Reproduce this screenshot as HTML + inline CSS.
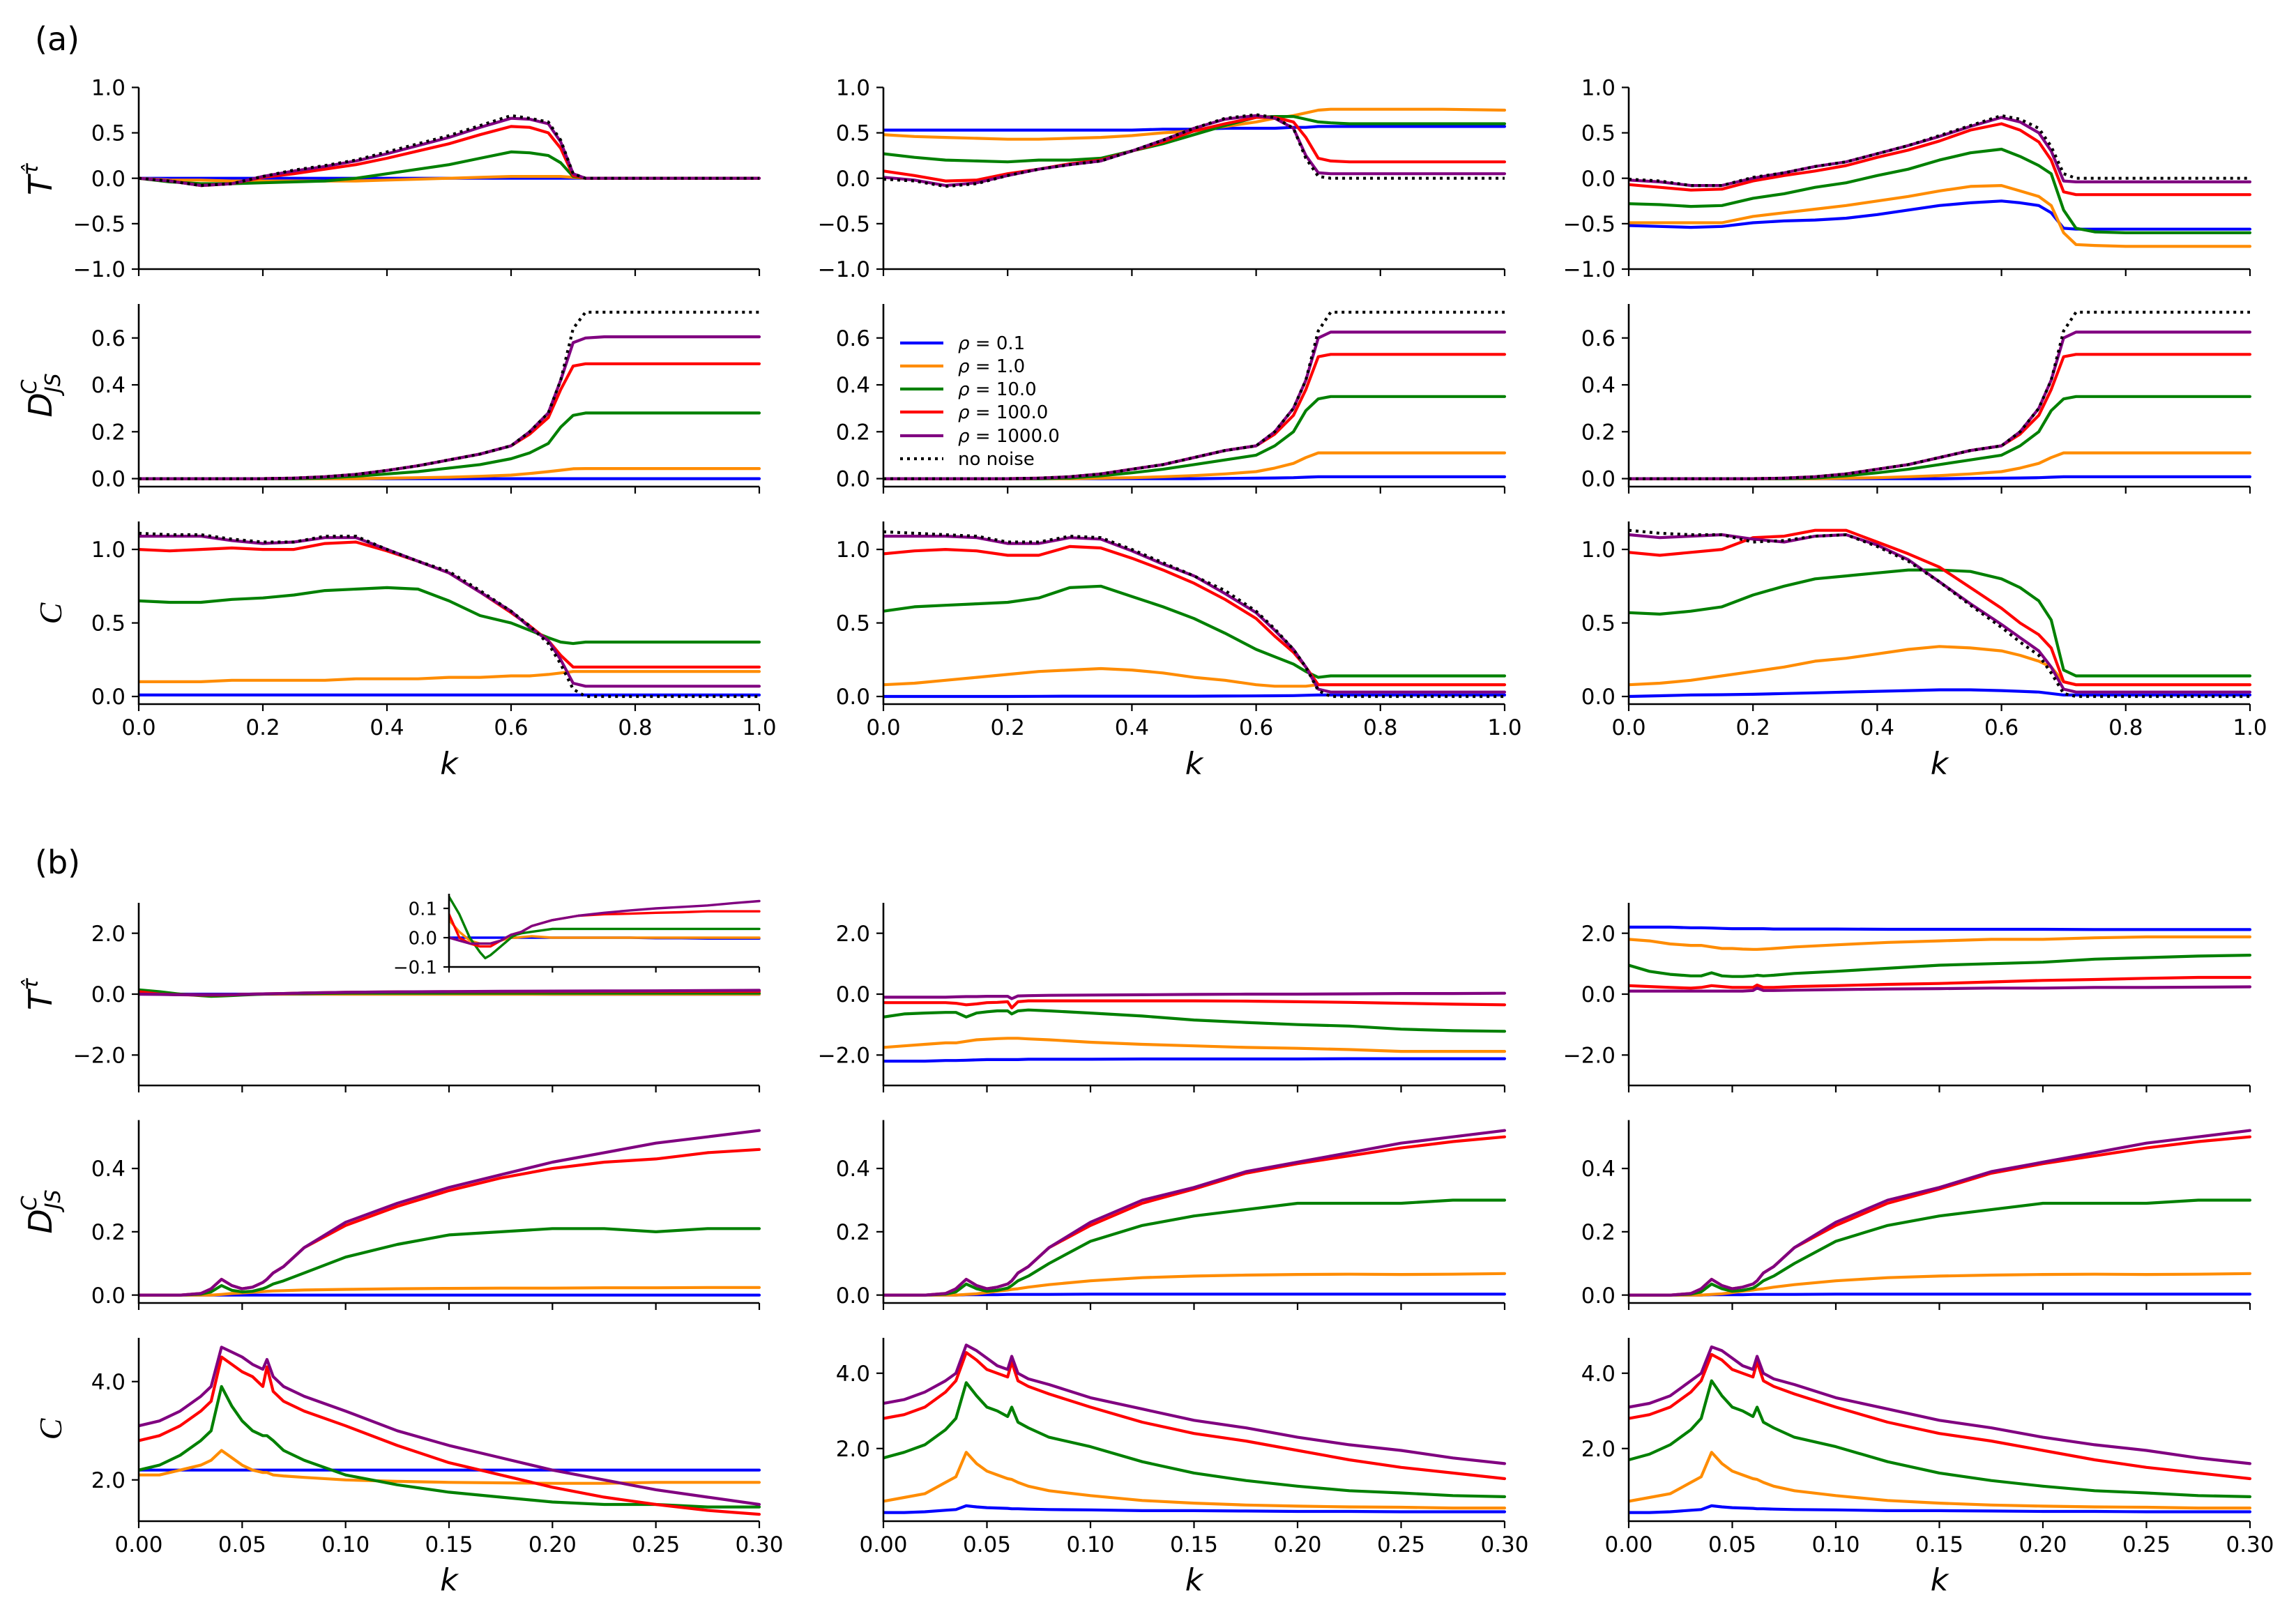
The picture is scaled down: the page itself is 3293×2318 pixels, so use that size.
<!DOCTYPE html>
<html><head><meta charset="utf-8">
<style>
html,body{margin:0;padding:0;background:#fff;}
svg{display:block;font-family:"DejaVu Sans","Liberation Sans",sans-serif;}
</style></head>
<body>
<svg id="fig" width="3293" height="2318" viewBox="0 0 3293 2318" xmlns="http://www.w3.org/2000/svg">
<rect width="3293" height="2318" fill="#fff"/>
<text x="50" y="72" font-size="46">(a)</text>
<text x="50" y="1253" font-size="46">(b)</text>
<g id="plots"></g>
</svg>
<script>
// ---------- shared k grids ----------
const kA = [0,0.05,0.1,0.15,0.2,0.25,0.3,0.35,0.4,0.45,0.5,0.55,0.6,0.63,0.66,0.68,0.7,0.72,0.75,0.8,0.9,1.0];
const kB = [0,0.01,0.02,0.03,0.035,0.04,0.045,0.05,0.055,0.06,0.062,0.065,0.07,0.08,0.1,0.125,0.15,0.175,0.2,0.225,0.25,0.275,0.3];
const seriesNames = ["rho-0.1","rho-1.0","rho-10.0","rho-100.0","rho-1000.0","no-noise"];
const legendLabels = ["\u03c1 = 0.1","\u03c1 = 1.0","\u03c1 = 10.0","\u03c1 = 100.0","\u03c1 = 1000.0","no noise"];
const xTicksA = [0,0.2,0.4,0.6,0.8,1.0];
const xTickLabelsA = ["0.0","0.2","0.4","0.6","0.8","1.0"];
const xTicksB = [0,0.05,0.1,0.15,0.2,0.25,0.3];
const xTickLabelsB = ["0.00","0.05","0.10","0.15","0.20","0.25","0.30"];
const yTicksAT = [-1,-0.5,0,0.5,1];
const yTickLabelsAT = ["\u22121.0","\u22120.5","0.0","0.5","1.0"];
const yTicksAD = [0,0.2,0.4,0.6];
const yTickLabelsAD = ["0.0","0.2","0.4","0.6"];
const yTicksAC = [0,0.5,1.0];
const yTickLabelsAC = ["0.0","0.5","1.0"];
const yTicksBT = [-2,0,2];
const yTickLabelsBT = ["\u22122.0","0.0","2.0"];
const yTicksBD = [0,0.2,0.4];
const yTickLabelsBD = ["0.0","0.2","0.4"];
const yTicksBC = [2,4];
const yTickLabelsBC = ["2.0","4.0"];
const yTicksInset = [-0.1,0,0.1];
const yTickLabelsInset = ["\u22120.1","0.0","0.1"];

// ---------- (a) column 1 ----------
const a1T_b = [0,0,0,0,0,0,0,0,0,0,0,0,0,0,0,0,0,0,0,0,0,0];
const a1T_o = [0,-0.02,-0.02,-0.03,-0.03,-0.03,-0.03,-0.03,-0.02,-0.01,0,0.01,0.02,0.02,0.02,0.02,0.01,0,0,0,0,0];
const a1T_g = [0,-0.04,-0.06,-0.06,-0.05,-0.04,-0.03,0,0.05,0.1,0.15,0.22,0.29,0.28,0.25,0.17,0.02,0,0,0,0,0];
const a1T_r = [0,-0.03,-0.08,-0.06,0.01,0.05,0.1,0.15,0.22,0.3,0.38,0.48,0.57,0.56,0.5,0.33,0.03,0,0,0,0,0];
const a1T_p = [0,-0.03,-0.08,-0.06,0.02,0.08,0.13,0.19,0.27,0.36,0.45,0.56,0.66,0.65,0.6,0.4,0.05,0,0,0,0,0];
const a1T_n = [0,-0.03,-0.08,-0.06,0.02,0.09,0.14,0.2,0.29,0.38,0.47,0.58,0.69,0.66,0.62,0.42,0.05,0,0,0,0,0];
const a1D_b = [0,0,0,0,0,0,0,0,0,0,0,0,0,0,0,0,0,0,0,0,0,0];
const a1D_o = [0,0,0,0,0,0,0,0,0.002,0.004,0.006,0.01,0.015,0.022,0.03,0.036,0.042,0.043,0.043,0.043,0.043,0.043];
const a1D_g = [0,0,0,0,0,0,0.003,0.01,0.02,0.03,0.045,0.06,0.085,0.11,0.15,0.22,0.27,0.28,0.28,0.28,0.28,0.28];
const a1D_r = [0,0,0,0,0,0.002,0.008,0.018,0.035,0.055,0.08,0.105,0.14,0.19,0.26,0.38,0.48,0.49,0.49,0.49,0.49,0.49];
const a1D_p = [0,0,0,0,0,0.002,0.008,0.018,0.035,0.055,0.08,0.105,0.14,0.2,0.28,0.42,0.58,0.6,0.605,0.605,0.605,0.605];
const a1D_n = [0,0,0,0,0,0.002,0.008,0.018,0.035,0.055,0.08,0.105,0.14,0.2,0.28,0.42,0.64,0.71,0.71,0.71,0.71,0.71];
const a1C_b = [0.01,0.01,0.01,0.01,0.01,0.01,0.01,0.01,0.01,0.01,0.01,0.01,0.01,0.01,0.01,0.01,0.01,0.01,0.01,0.01,0.01,0.01];
const a1C_o = [0.1,0.1,0.1,0.11,0.11,0.11,0.11,0.12,0.12,0.12,0.13,0.13,0.14,0.14,0.15,0.16,0.17,0.17,0.17,0.17,0.17,0.17];
const a1C_g = [0.65,0.64,0.64,0.66,0.67,0.69,0.72,0.73,0.74,0.73,0.65,0.55,0.5,0.45,0.4,0.37,0.36,0.37,0.37,0.37,0.37,0.37];
const a1C_r = [1.0,0.99,1.0,1.01,1.0,1.0,1.04,1.05,0.99,0.92,0.84,0.71,0.57,0.48,0.38,0.28,0.2,0.2,0.2,0.2,0.2,0.2];
const a1C_p = [1.09,1.09,1.09,1.06,1.04,1.05,1.08,1.08,1.0,0.92,0.84,0.71,0.58,0.47,0.38,0.25,0.09,0.07,0.07,0.07,0.07,0.07];
const a1C_n = [1.11,1.1,1.1,1.07,1.05,1.05,1.09,1.09,1.0,0.92,0.85,0.72,0.58,0.48,0.36,0.22,0.05,0,0,0,0,0];

// ---------- (a) column 2 ----------
const a2T_b = [0.53,0.53,0.53,0.53,0.53,0.53,0.53,0.53,0.53,0.54,0.54,0.55,0.55,0.55,0.56,0.56,0.57,0.57,0.57,0.57,0.57,0.57];
const a2T_o = [0.48,0.46,0.45,0.44,0.43,0.43,0.44,0.45,0.47,0.5,0.52,0.57,0.62,0.66,0.69,0.72,0.75,0.76,0.76,0.76,0.76,0.75];
const a2T_g = [0.27,0.23,0.2,0.19,0.18,0.2,0.2,0.22,0.3,0.38,0.48,0.58,0.67,0.68,0.68,0.65,0.62,0.61,0.6,0.6,0.6,0.6];
const a2T_r = [0.08,0.03,-0.03,-0.02,0.05,0.1,0.16,0.2,0.3,0.4,0.52,0.6,0.67,0.67,0.62,0.45,0.22,0.19,0.18,0.18,0.18,0.18];
const a2T_p = [0.01,-0.02,-0.08,-0.05,0.03,0.1,0.15,0.19,0.3,0.42,0.55,0.65,0.69,0.66,0.55,0.25,0.06,0.05,0.05,0.05,0.05,0.05];
const a2T_n = [-0.01,-0.03,-0.09,-0.06,0.03,0.1,0.15,0.19,0.3,0.42,0.55,0.66,0.7,0.67,0.55,0.22,0.02,0,0,0,0,0];
const a2D_b = [0,0,0,0,0,0,0,0,0,0,0,0.001,0.002,0.003,0.004,0.006,0.008,0.008,0.008,0.008,0.008,0.008];
const a2D_o = [0,0,0,0,0,0,0,0.002,0.004,0.008,0.013,0.02,0.03,0.045,0.065,0.09,0.11,0.11,0.11,0.11,0.11,0.11];
const a2D_g = [0,0,0,0,0,0,0.003,0.012,0.025,0.04,0.06,0.08,0.1,0.14,0.2,0.29,0.34,0.35,0.35,0.35,0.35,0.35];
const a2D_r = [0,0,0,0,0,0.002,0.008,0.02,0.04,0.06,0.09,0.12,0.14,0.19,0.27,0.38,0.52,0.53,0.53,0.53,0.53,0.53];
const a2D_p = [0,0,0,0,0,0.002,0.008,0.02,0.04,0.06,0.09,0.12,0.14,0.2,0.3,0.42,0.6,0.625,0.625,0.625,0.625,0.625];
const a2D_n = [0,0,0,0,0,0.002,0.008,0.02,0.04,0.06,0.09,0.12,0.14,0.2,0.3,0.42,0.63,0.71,0.71,0.71,0.71,0.71];
const a2C_b = [0,0,0,0,0,0.001,0.002,0.002,0.002,0.002,0.002,0.003,0.004,0.005,0.006,0.008,0.01,0.01,0.01,0.01,0.01,0.01];
const a2C_o = [0.08,0.09,0.11,0.13,0.15,0.17,0.18,0.19,0.18,0.16,0.13,0.11,0.08,0.07,0.07,0.07,0.08,0.08,0.08,0.08,0.08,0.08];
const a2C_g = [0.58,0.61,0.62,0.63,0.64,0.67,0.74,0.75,0.68,0.61,0.53,0.43,0.32,0.27,0.22,0.17,0.13,0.14,0.14,0.14,0.14,0.14];
const a2C_r = [0.97,0.99,1.0,0.99,0.96,0.96,1.02,1.01,0.94,0.86,0.77,0.66,0.53,0.41,0.3,0.2,0.08,0.08,0.08,0.08,0.08,0.08];
const a2C_p = [1.09,1.09,1.09,1.08,1.04,1.04,1.08,1.07,0.99,0.9,0.82,0.7,0.57,0.45,0.32,0.2,0.05,0.03,0.03,0.03,0.03,0.03];
const a2C_n = [1.12,1.11,1.1,1.09,1.05,1.05,1.09,1.08,1.0,0.91,0.82,0.72,0.58,0.46,0.32,0.2,0.04,0,0,0,0,0];

// ---------- (a) column 3 ----------
const a3T_b = [-0.52,-0.53,-0.54,-0.53,-0.49,-0.47,-0.46,-0.44,-0.4,-0.35,-0.3,-0.27,-0.25,-0.27,-0.3,-0.38,-0.55,-0.56,-0.56,-0.56,-0.56,-0.56];
const a3T_o = [-0.49,-0.49,-0.49,-0.49,-0.42,-0.38,-0.34,-0.3,-0.25,-0.2,-0.14,-0.09,-0.08,-0.14,-0.2,-0.3,-0.6,-0.73,-0.74,-0.75,-0.75,-0.75];
const a3T_g = [-0.28,-0.29,-0.31,-0.3,-0.22,-0.17,-0.1,-0.05,0.03,0.1,0.2,0.28,0.32,0.24,0.14,0.05,-0.35,-0.55,-0.59,-0.6,-0.6,-0.6];
const a3T_r = [-0.07,-0.1,-0.13,-0.12,-0.03,0.03,0.08,0.14,0.23,0.31,0.41,0.53,0.6,0.53,0.4,0.2,-0.15,-0.18,-0.18,-0.18,-0.18,-0.18];
const a3T_p = [-0.02,-0.04,-0.08,-0.08,0,0.06,0.13,0.18,0.27,0.36,0.46,0.57,0.67,0.62,0.5,0.3,-0.03,-0.04,-0.04,-0.04,-0.04,-0.04];
const a3T_n = [-0.01,-0.03,-0.08,-0.08,0.01,0.06,0.13,0.18,0.27,0.36,0.47,0.58,0.69,0.65,0.55,0.35,0.05,0,0,0,0,0];
const a3D_b = [0,0,0,0,0,0,0,0,0,0,0,0.001,0.002,0.003,0.004,0.006,0.008,0.008,0.008,0.008,0.008,0.008];
const a3D_o = [0,0,0,0,0,0,0,0.002,0.004,0.008,0.013,0.02,0.03,0.045,0.065,0.09,0.11,0.11,0.11,0.11,0.11,0.11];
const a3D_g = [0,0,0,0,0,0,0.003,0.012,0.025,0.04,0.06,0.08,0.1,0.14,0.2,0.29,0.34,0.35,0.35,0.35,0.35,0.35];
const a3D_r = [0,0,0,0,0,0.002,0.008,0.02,0.04,0.06,0.09,0.12,0.14,0.19,0.27,0.38,0.52,0.53,0.53,0.53,0.53,0.53];
const a3D_p = [0,0,0,0,0,0.002,0.008,0.02,0.04,0.06,0.09,0.12,0.14,0.2,0.3,0.42,0.6,0.625,0.625,0.625,0.625,0.625];
const a3D_n = [0,0,0,0,0,0.002,0.008,0.02,0.04,0.06,0.09,0.12,0.14,0.2,0.3,0.42,0.63,0.71,0.71,0.71,0.71,0.71];
const a3C_b = [0,0.005,0.01,0.012,0.015,0.02,0.025,0.03,0.035,0.04,0.045,0.045,0.04,0.035,0.03,0.02,0.01,0.01,0.01,0.01,0.01,0.01];
const a3C_o = [0.08,0.09,0.11,0.14,0.17,0.2,0.24,0.26,0.29,0.32,0.34,0.33,0.31,0.28,0.24,0.2,0.1,0.08,0.08,0.08,0.08,0.08];
const a3C_g = [0.57,0.56,0.58,0.61,0.69,0.75,0.8,0.82,0.84,0.86,0.86,0.85,0.8,0.74,0.65,0.52,0.18,0.14,0.14,0.14,0.14,0.14];
const a3C_r = [0.98,0.96,0.98,1.0,1.08,1.09,1.13,1.13,1.05,0.97,0.88,0.74,0.6,0.5,0.42,0.33,0.1,0.08,0.08,0.08,0.08,0.08];
const a3C_p = [1.1,1.08,1.09,1.1,1.07,1.05,1.09,1.1,1.03,0.93,0.78,0.63,0.49,0.4,0.31,0.2,0.05,0.03,0.03,0.03,0.03,0.03];
const a3C_n = [1.13,1.11,1.1,1.1,1.05,1.06,1.09,1.1,1.02,0.92,0.78,0.62,0.47,0.37,0.28,0.16,0.02,0,0,0,0,0];

// ---------- (b) column 1 ----------
const b1T_b = [0,0,0,0,0,0,0,0,0,0,0,0,0,0,0,0,0,0,-0.002,-0.002,-0.003,-0.003,-0.003];
const b1T_o = [0.06,0.02,-0.01,-0.02,-0.02,-0.02,-0.015,-0.01,-0.005,0,0,0,0.002,0.005,0,0,0,0,0,0,0,0,0];
const b1T_g = [0.14,0.08,0,-0.05,-0.07,-0.06,-0.045,-0.03,-0.015,0,0.005,0.01,0.015,0.02,0.03,0.03,0.03,0.03,0.03,0.03,0.03,0.03,0.03];
const b1T_r = [0.08,0,-0.02,-0.03,-0.03,-0.03,-0.02,-0.01,0,0.01,0.012,0.015,0.02,0.04,0.06,0.075,0.08,0.082,0.085,0.087,0.09,0.09,0.09];
const b1T_p = [0,-0.01,-0.02,-0.02,-0.02,-0.02,-0.015,-0.01,0,0.01,0.012,0.015,0.02,0.04,0.06,0.075,0.085,0.093,0.1,0.105,0.11,0.118,0.125];
const b1D_b = [0,0,0,0,0,0,0,0,0,0,0,0,0,0,0,0,0,0,0,0,0,0,0];
const b1D_o = [0,0,0,0,0,0.002,0.005,0.007,0.009,0.011,0.012,0.013,0.014,0.016,0.018,0.02,0.021,0.022,0.022,0.023,0.023,0.024,0.024];
const b1D_g = [0,0,0,0.003,0.01,0.03,0.015,0.01,0.012,0.02,0.025,0.035,0.045,0.07,0.12,0.16,0.19,0.2,0.21,0.21,0.2,0.21,0.21];
const b1D_r = [0,0,0,0.005,0.02,0.05,0.03,0.02,0.025,0.04,0.05,0.07,0.09,0.15,0.22,0.28,0.33,0.37,0.4,0.42,0.43,0.45,0.46];
const b1D_p = [0,0,0,0.005,0.02,0.05,0.03,0.02,0.025,0.04,0.05,0.07,0.09,0.15,0.23,0.29,0.34,0.38,0.42,0.45,0.48,0.5,0.52];
const b1C_b = [2.2,2.2,2.2,2.2,2.2,2.2,2.2,2.2,2.2,2.2,2.2,2.2,2.2,2.2,2.2,2.2,2.2,2.2,2.2,2.2,2.2,2.2,2.2];
const b1C_o = [2.1,2.1,2.2,2.3,2.4,2.6,2.45,2.3,2.2,2.15,2.15,2.1,2.08,2.05,2.0,1.97,1.95,1.94,1.93,1.93,1.95,1.95,1.95];
const b1C_g = [2.2,2.3,2.5,2.8,3.0,3.9,3.5,3.2,3.0,2.9,2.9,2.8,2.6,2.4,2.1,1.9,1.75,1.65,1.55,1.5,1.5,1.45,1.45];
const b1C_r = [2.8,2.9,3.1,3.4,3.6,4.5,4.35,4.2,4.1,3.9,4.3,3.8,3.6,3.4,3.1,2.7,2.35,2.1,1.85,1.65,1.5,1.38,1.3];
const b1C_p = [3.1,3.2,3.4,3.7,3.9,4.7,4.6,4.5,4.35,4.25,4.45,4.1,3.9,3.7,3.4,3.0,2.7,2.45,2.2,2.0,1.8,1.65,1.5];

// ---------- (b) column 2 ----------
const b2T_b = [-2.2,-2.2,-2.2,-2.18,-2.18,-2.17,-2.16,-2.15,-2.15,-2.15,-2.15,-2.15,-2.14,-2.14,-2.14,-2.13,-2.13,-2.13,-2.13,-2.12,-2.12,-2.12,-2.12];
const b2T_o = [-1.75,-1.7,-1.65,-1.6,-1.6,-1.55,-1.5,-1.48,-1.46,-1.45,-1.45,-1.45,-1.47,-1.5,-1.58,-1.65,-1.7,-1.75,-1.78,-1.82,-1.88,-1.88,-1.88];
const b2T_g = [-0.75,-0.65,-0.62,-0.6,-0.6,-0.75,-0.62,-0.58,-0.55,-0.55,-0.65,-0.55,-0.52,-0.55,-0.62,-0.72,-0.85,-0.93,-1.0,-1.05,-1.15,-1.2,-1.22];
const b2T_r = [-0.28,-0.28,-0.28,-0.28,-0.3,-0.35,-0.32,-0.28,-0.27,-0.25,-0.45,-0.25,-0.22,-0.22,-0.22,-0.22,-0.22,-0.23,-0.25,-0.27,-0.3,-0.33,-0.35];
const b2T_p = [-0.1,-0.1,-0.1,-0.1,-0.09,-0.08,-0.08,-0.07,-0.07,-0.07,-0.15,-0.06,-0.05,-0.04,-0.03,-0.02,-0.01,0,0,0.01,0.02,0.02,0.03];
const b2D_b = [0,0,0,0,0,0.001,0.001,0.001,0.001,0.002,0.002,0.002,0.002,0.002,0.003,0.003,0.003,0.003,0.003,0.003,0.003,0.003,0.003];
const b2D_o = [0,0,0,0,0,0.002,0.004,0.008,0.012,0.016,0.018,0.02,0.025,0.033,0.045,0.055,0.06,0.063,0.065,0.066,0.065,0.066,0.068];
const b2D_g = [0,0,0,0.003,0.01,0.035,0.02,0.012,0.015,0.022,0.03,0.045,0.06,0.1,0.17,0.22,0.25,0.27,0.29,0.29,0.29,0.3,0.3];
const b2D_r = [0,0,0,0.005,0.02,0.05,0.03,0.02,0.025,0.035,0.045,0.07,0.09,0.15,0.22,0.29,0.335,0.385,0.415,0.44,0.465,0.485,0.5];
const b2D_p = [0,0,0,0.005,0.02,0.05,0.03,0.02,0.025,0.035,0.045,0.07,0.09,0.15,0.23,0.3,0.34,0.39,0.42,0.45,0.48,0.5,0.52];
const b2C_b = [0.3,0.3,0.32,0.36,0.38,0.48,0.45,0.43,0.42,0.41,0.4,0.4,0.39,0.38,0.37,0.35,0.35,0.34,0.33,0.33,0.32,0.32,0.32];
const b2C_o = [0.6,0.7,0.8,1.1,1.25,1.9,1.6,1.4,1.3,1.2,1.18,1.1,1.0,0.88,0.75,0.62,0.55,0.5,0.47,0.45,0.44,0.42,0.42];
const b2C_g = [1.75,1.9,2.1,2.5,2.8,3.75,3.4,3.1,3.0,2.85,3.1,2.7,2.55,2.3,2.05,1.65,1.35,1.15,1.0,0.88,0.82,0.75,0.72];
const b2C_r = [2.8,2.9,3.1,3.5,3.8,4.55,4.35,4.1,4.0,3.9,4.3,3.8,3.65,3.45,3.1,2.7,2.4,2.2,1.95,1.7,1.5,1.35,1.2];
const b2C_p = [3.2,3.3,3.5,3.8,4.0,4.75,4.6,4.4,4.2,4.1,4.45,4.0,3.85,3.7,3.35,3.05,2.75,2.55,2.3,2.1,1.95,1.75,1.6];

// ---------- (b) column 3 ----------
const b3T_b = [2.2,2.2,2.2,2.18,2.18,2.17,2.16,2.15,2.15,2.15,2.15,2.15,2.14,2.14,2.14,2.13,2.13,2.13,2.13,2.12,2.12,2.12,2.12];
const b3T_o = [1.8,1.75,1.65,1.6,1.6,1.55,1.5,1.5,1.48,1.47,1.47,1.48,1.5,1.55,1.62,1.7,1.75,1.8,1.8,1.85,1.88,1.88,1.88];
const b3T_g = [0.95,0.75,0.65,0.6,0.6,0.7,0.6,0.58,0.58,0.6,0.62,0.6,0.62,0.68,0.75,0.85,0.95,1.0,1.05,1.15,1.2,1.25,1.28];
const b3T_r = [0.28,0.25,0.22,0.2,0.22,0.28,0.25,0.22,0.22,0.22,0.3,0.22,0.22,0.25,0.28,0.32,0.35,0.4,0.45,0.48,0.52,0.55,0.55];
const b3T_p = [0.1,0.1,0.1,0.1,0.1,0.1,0.1,0.1,0.1,0.12,0.2,0.12,0.12,0.13,0.15,0.17,0.18,0.2,0.2,0.22,0.22,0.23,0.24];
const b3D_b = [0,0,0,0,0,0.001,0.001,0.001,0.001,0.002,0.002,0.002,0.002,0.002,0.003,0.003,0.003,0.003,0.003,0.003,0.003,0.003,0.003];
const b3D_o = [0,0,0,0,0,0.002,0.004,0.008,0.012,0.016,0.018,0.02,0.025,0.033,0.045,0.055,0.06,0.063,0.065,0.066,0.065,0.066,0.068];
const b3D_g = [0,0,0,0.003,0.01,0.035,0.02,0.012,0.015,0.022,0.03,0.045,0.06,0.1,0.17,0.22,0.25,0.27,0.29,0.29,0.29,0.3,0.3];
const b3D_r = [0,0,0,0.005,0.02,0.05,0.03,0.02,0.025,0.035,0.045,0.07,0.09,0.15,0.22,0.29,0.335,0.385,0.415,0.44,0.465,0.485,0.5];
const b3D_p = [0,0,0,0.005,0.02,0.05,0.03,0.02,0.025,0.035,0.045,0.07,0.09,0.15,0.23,0.3,0.34,0.39,0.42,0.45,0.48,0.5,0.52];
const b3C_b = [0.3,0.3,0.32,0.36,0.38,0.48,0.45,0.43,0.42,0.41,0.4,0.4,0.39,0.38,0.37,0.35,0.35,0.34,0.33,0.33,0.32,0.32,0.32];
const b3C_o = [0.6,0.7,0.8,1.1,1.25,1.9,1.6,1.4,1.3,1.2,1.18,1.1,1.0,0.88,0.75,0.62,0.55,0.5,0.47,0.45,0.44,0.42,0.42];
const b3C_g = [1.7,1.85,2.1,2.5,2.8,3.8,3.4,3.1,3.0,2.85,3.1,2.7,2.55,2.3,2.05,1.65,1.35,1.15,1.0,0.88,0.82,0.75,0.72];
const b3C_r = [2.8,2.9,3.1,3.5,3.8,4.5,4.35,4.1,4.0,3.9,4.3,3.8,3.65,3.45,3.1,2.7,2.4,2.2,1.95,1.7,1.5,1.35,1.2];
const b3C_p = [3.1,3.2,3.4,3.8,4.0,4.7,4.6,4.4,4.2,4.1,4.45,4.0,3.85,3.7,3.35,3.05,2.75,2.55,2.3,2.1,1.95,1.75,1.6];

const colors = ["#0000ff","#ff8c00","#008000","#ff0000","#800080","#000000"];

// ---------- drawing ----------
const NS = "http://www.w3.org/2000/svg";
const root = document.getElementById("plots");
let clipId = 0;
function mk(tag, attrs, parent) {
  const e = document.createElementNS(NS, tag);
  for (const k in attrs) e.setAttribute(k, attrs[k]);
  (parent || root).appendChild(e);
  return e;
}
function scale(d0, d1, p0, p1) { return v => p0 + (v - d0) / (d1 - d0) * (p1 - p0); }

function drawAxes(name, box, xdom, ydom, xticks, xlabels, yticks, ylabels, fs, tickLen, seriesList, xs) {
  const g = mk("g", {});
  
  
  const sx = scale(xdom[0], xdom[1], box.x0, box.x1);
  const sy = scale(ydom[0], ydom[1], box.bot, box.top);
  const cid = "clip" + (clipId++);
  const cp = mk("clipPath", {id: cid}, g);
  mk("rect", {x: box.x0, y: box.top - 2, width: box.x1 - box.x0 + 4, height: box.bot - box.top + 2}, cp);
  const lines = mk("g", {"clip-path": "url(#" + cid + ")"}, g);
  const lw = fs > 28 ? 4.2 : 3.4;
  seriesList.forEach((s, i) => {
    if (!s) return;
    const pts = s.map((v, j) => sx(xs[j]).toFixed(1) + "," + sy(v).toFixed(1)).join(" ");
    const pl = mk("polyline", {points: pts, fill: "none", stroke: colors[i], "stroke-width": lw, "stroke-linejoin": "round", "stroke-linecap": "round"}, lines);
    if (i === 5) { pl.setAttribute("stroke-dasharray", "4 6"); pl.setAttribute("stroke-width", "4.2"); pl.setAttribute("stroke-linecap", "butt"); }
    
    
  });
  const ls = mk("line", {x1: box.x0, y1: box.top, x2: box.x0, y2: box.bot + 1, stroke: "#000", "stroke-width": 2.6}, g);
  
  
  const bs = mk("line", {x1: box.x0 - 1, y1: box.bot, x2: box.x1, y2: box.bot, stroke: "#000", "stroke-width": 2.6}, g);
  
  
  xticks.forEach((t, i) => {
    mk("line", {x1: sx(t), y1: box.bot, x2: sx(t), y2: box.bot + tickLen, stroke: "#000", "stroke-width": 2.2}, g);
    if (xlabels) {
      const tx = mk("text", {x: sx(t), y: box.bot + 44, "font-size": fs, "text-anchor": "middle"}, g);
      tx.textContent = xlabels[i];
      
      
    }
  });
  yticks.forEach((t, i) => {
    const y = sy(t);
    mk("line", {x1: box.x0 - tickLen, y1: y, x2: box.x0, y2: y, stroke: "#000", "stroke-width": 2.2}, g);
    const ty = mk("text", {x: box.x0 - tickLen - 9, y: y + fs * 0.36, "font-size": fs, "text-anchor": "end"}, g);
    ty.textContent = ylabels[i];
    
    
  });
  return {sx, sy};
}

const cols = [{x0: 199, x1: 1089}, {x0: 1267, x1: 2158}, {x0: 2336, x1: 3227}];
const rA = {T: {top: 125.4, bot: 386}, D: {top: 436, bot: 698}, C: {top: 748, bot: 1010}};
const rB = {T: {top: 1295, bot: 1557}, D: {top: 1606.6, bot: 1869}, C: {top: 1919, bot: 2182}};
const ylimA = {T: [-1, 1], D: [-0.034, 0.745], C: [-0.052, 1.19]};
const ylimB = {T: [-3, 3], D: [-0.025, 0.553]};
const ylimBC = [[1.16, 4.89], [0.07, 4.94], [0.07, 4.94]];

const dataA = [
  {T: [a1T_b,a1T_o,a1T_g,a1T_r,a1T_p,a1T_n], D: [a1D_b,a1D_o,a1D_g,a1D_r,a1D_p,a1D_n], C: [a1C_b,a1C_o,a1C_g,a1C_r,a1C_p,a1C_n]},
  {T: [a2T_b,a2T_o,a2T_g,a2T_r,a2T_p,a2T_n], D: [a2D_b,a2D_o,a2D_g,a2D_r,a2D_p,a2D_n], C: [a2C_b,a2C_o,a2C_g,a2C_r,a2C_p,a2C_n]},
  {T: [a3T_b,a3T_o,a3T_g,a3T_r,a3T_p,a3T_n], D: [a3D_b,a3D_o,a3D_g,a3D_r,a3D_p,a3D_n], C: [a3C_b,a3C_o,a3C_g,a3C_r,a3C_p,a3C_n]}
];
const dataB = [
  {T: [b1T_b,b1T_o,b1T_g,b1T_r,b1T_p], D: [b1D_b,b1D_o,b1D_g,b1D_r,b1D_p], C: [b1C_b,b1C_o,b1C_g,b1C_r,b1C_p]},
  {T: [b2T_b,b2T_o,b2T_g,b2T_r,b2T_p], D: [b2D_b,b2D_o,b2D_g,b2D_r,b2D_p], C: [b2C_b,b2C_o,b2C_g,b2C_r,b2C_p]},
  {T: [b3T_b,b3T_o,b3T_g,b3T_r,b3T_p], D: [b3D_b,b3D_o,b3D_g,b3D_r,b3D_p], C: [b3C_b,b3C_o,b3C_g,b3C_r,b3C_p]}
];

const FS = 31, TL = 10;
cols.forEach((c, ci) => {
  const n = ci + 1;
  drawAxes("a-col" + n + "-T-axes", {x0: c.x0, x1: c.x1, top: rA.T.top, bot: rA.T.bot}, [0, 1], ylimA.T, xTicksA, null, yTicksAT, yTickLabelsAT, FS, TL, dataA[ci].T, kA);
  drawAxes("a-col" + n + "-D-axes", {x0: c.x0, x1: c.x1, top: rA.D.top, bot: rA.D.bot}, [0, 1], ylimA.D, xTicksA, null, yTicksAD, yTickLabelsAD, FS, TL, dataA[ci].D, kA);
  drawAxes("a-col" + n + "-C-axes", {x0: c.x0, x1: c.x1, top: rA.C.top, bot: rA.C.bot}, [0, 1], ylimA.C, xTicksA, xTickLabelsA, yTicksAC, yTickLabelsAC, FS, TL, dataA[ci].C, kA);
  drawAxes("b-col" + n + "-T-axes", {x0: c.x0, x1: c.x1, top: rB.T.top, bot: rB.T.bot}, [0, 0.3], ylimB.T, xTicksB, null, yTicksBT, yTickLabelsBT, FS, TL, dataB[ci].T, kB);
  drawAxes("b-col" + n + "-D-axes", {x0: c.x0, x1: c.x1, top: rB.D.top, bot: rB.D.bot}, [0, 0.3], ylimB.D, xTicksB, null, yTicksBD, yTickLabelsBD, FS, TL, dataB[ci].D, kB);
  drawAxes("b-col" + n + "-C-axes", {x0: c.x0, x1: c.x1, top: rB.C.top, bot: rB.C.bot}, [0, 0.3], ylimBC[ci], xTicksB, xTickLabelsB, yTicksBC, yTickLabelsBC, FS, TL, dataB[ci].C, kB);
  const kx = mk("text", {x: (c.x0 + c.x1) / 2, y: 1110, "font-size": 44, "font-style": "italic", "text-anchor": "middle"});
  kx.textContent = "k";
  
  
  const kx2 = mk("text", {x: (c.x0 + c.x1) / 2, y: 2281, "font-size": 44, "font-style": "italic", "text-anchor": "middle"});
  kx2.textContent = "k";
  
  
});

// inset in (b) col1 T panel
drawAxes("b-col1-T-inset", {x0: 644, x1: 1089, top: 1282, bot: 1387}, [0, 0.3], [-0.1, 0.15], [0, 0.1, 0.2, 0.3], null, yTicksInset, yTickLabelsInset, 26, 8, dataB[0].T, kB);

function ytitle(name, cx, cy, html) {
  const g = mk("g", {transform: "translate(" + cx + "," + cy + ") rotate(-90)"});
  
  
  const t = mk("text", {x: 0, y: 0, "font-size": 46, "text-anchor": "middle", "font-style": "italic", "font-family": "DejaVu Sans, sans-serif"}, g);
  t.innerHTML = html;
}
const Thtml = 'T<tspan font-size="30" dy="-20">\u03c4\u0302</tspan>';
const Dhtml = 'D<tspan font-size="30" dy="12">JS</tspan><tspan font-size="30" dy="-34" dx="-30">C</tspan>';
const Chtml = '<tspan font-family="Liberation Serif, serif">C</tspan>';
ytitle("y-axis-title-a-T", 74, 257, Thtml);
ytitle("y-axis-title-a-D", 74, 567, Dhtml);
ytitle("y-axis-title-a-C", 88, 880, Chtml);
ytitle("y-axis-title-b-T", 74, 1426, Thtml);
ytitle("y-axis-title-b-D", 74, 1738, Dhtml);
ytitle("y-axis-title-b-C", 88, 2050, Chtml);

// legend in (a) col2 D panel
const lg = mk("g", {});


const legY = [492, 525, 558, 591, 625, 658];
legendLabels.forEach((lab, i) => {
  const ln = mk("line", {x1: 1291, y1: legY[i], x2: 1353, y2: legY[i], stroke: colors[i], "stroke-width": 4.2}, lg);
  if (i === 5) { ln.setAttribute("stroke-dasharray", "4 6"); ln.setAttribute("stroke-width", "4.2"); }
  
  
  const tx = mk("text", {x: 1374, y: legY[i] + 9, "font-size": 26}, lg);
  tx.textContent = lab;
  if (i < 5) tx.innerHTML = '<tspan font-style="italic">\u03c1</tspan> = ' + lab.split("= ")[1];
  
  
});
</script>
</body></html>
